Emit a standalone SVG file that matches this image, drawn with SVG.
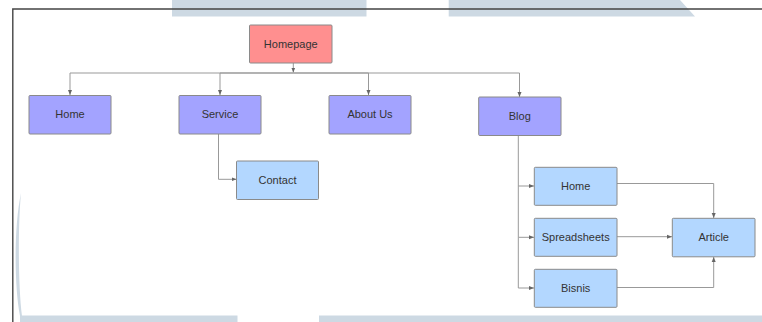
<svg xmlns="http://www.w3.org/2000/svg" width="762" height="322" viewBox="0 0 762 322">
<defs>
<marker id="arr" markerWidth="6" markerHeight="6" refX="5" refY="3" orient="auto" markerUnits="userSpaceOnUse">
<path d="M0,1 L5,3 L0,5 Z" fill="#666"/>
</marker>
<style>
.bg{fill:#cdd9e3}
.node rect{stroke:#8a8a8a;stroke-width:1}
.red rect{fill:#ff8f8f}
.purple rect{fill:#a3a3ff}
.blue rect{fill:#b3d7ff}
.node text{font-family:"Liberation Sans",Arial,sans-serif;font-size:11px;fill:#333;text-anchor:middle;dominant-baseline:central}
.conn path{fill:none;stroke:#999;stroke-width:1;marker-end:url(#arr)}
</style>
</defs>
<rect width="762" height="322" fill="#fff"/>
<g id="background">
<rect class="bg" x="172" y="0" width="194.5" height="16.5"/>
<path class="bg" d="M448.7,0 L680,0 L695,16.5 L448.7,16.5 Z"/>
<path class="bg" d="M21,193 C14,225 14,285 20,316 L22,316 C18,285 18,225 21,193 Z"/>
<rect class="bg" x="20" y="315.5" width="217.5" height="6.5"/>
<rect class="bg" x="319" y="315.5" width="443" height="6.5"/>
<path d="M12.8,322 L12.8,9 L762,9" fill="none" stroke="#444" stroke-width="1.4"/>
</g>
<g id="connectors" class="conn">
<path d="M293.3,63 L293.3,72.5"/>
<path d="M293.3,73 L70,73 L70,95"/>
<path d="M293.3,73 L220,73 L220,95"/>
<path d="M293.3,73 L368.5,73 L368.5,95"/>
<path d="M293.3,73 L519.5,73 L519.5,97"/>
<path d="M218.5,134 L218.5,179.3 L236.5,179.3"/>
<path d="M518.3,135.5 L518.3,186 L534,186"/>
<path d="M518.3,186 L518.3,237.3 L534,237.3"/>
<path d="M518.3,237.3 L518.3,288 L534,288"/>
<path d="M617,183.5 L713.7,183.5 L713.7,218"/>
<path d="M617,236.7 L672,236.7"/>
<path d="M617,287.5 L713.7,287.5 L713.7,257"/>
</g>
<g id="homepage" class="node red"><rect x="249.5" y="25" width="82.5" height="38" rx="1"/><text x="290.75" y="44">Homepage</text></g>
<g id="home" class="node purple"><rect x="29" y="95.5" width="82" height="38.5" rx="1"/><text x="70" y="114">Home</text></g>
<g id="service" class="node purple"><rect x="179" y="95.5" width="82" height="38.5" rx="1"/><text x="220" y="114">Service</text></g>
<g id="about-us" class="node purple"><rect x="329" y="95.5" width="82" height="38.5" rx="1"/><text x="370" y="114">About Us</text></g>
<g id="blog" class="node purple"><rect x="478.7" y="97" width="82.3" height="38.5" rx="1"/><text x="519.8" y="115.5">Blog</text></g>
<g id="contact" class="node blue"><rect x="236.5" y="161" width="82" height="38.5" rx="1"/><text x="277.5" y="179.5">Contact</text></g>
<g id="blog-home" class="node blue"><rect x="534.3" y="167.3" width="82.7" height="38" rx="1"/><text x="575.7" y="185.5">Home</text></g>
<g id="spreadsheets" class="node blue"><rect x="534.3" y="218.3" width="82.7" height="38" rx="1"/><text x="575.7" y="236.7">Spreadsheets</text></g>
<g id="bisnis" class="node blue"><rect x="534.3" y="269.3" width="82.7" height="38" rx="1"/><text x="575.7" y="287.5">Bisnis</text></g>
<g id="article" class="node blue"><rect x="672.3" y="218.3" width="82.7" height="38.5" rx="1"/><text x="713.7" y="236.7">Article</text></g>
</svg>
